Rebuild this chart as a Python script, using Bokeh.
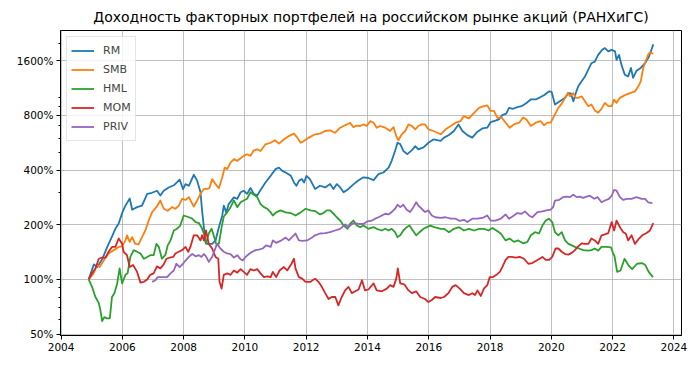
from bokeh.plotting import figure
from bokeh.models import Range1d, FixedTicker, PrintfTickFormatter, Legend, LegendItem
from bokeh.embed import file_html
from bokeh.resources import INLINE

title_text = "Доходность факторных портфелей на российском рынке акций (РАНХиГС)"
series_names = ["RM", "SMB", "HML", "MOM", "PRIV"]
series_colors = ["#1f77b4", "#ff7f0e", "#2ca02c", "#d62728", "#9467bd"]

x_ticks = [2004, 2006, 2008, 2010, 2012, 2014, 2016, 2018, 2020, 2022, 2024]
y_ticks = [50, 100, 200, 400, 800, 1600]
y_minor_ticks = [60, 70, 80, 90, 300, 500, 600, 700, 900, 1000, 2000]

# cumulative value, % of start
rm_t = [2004.90, 2005.07, 2005.18, 2005.34, 2005.50, 2005.66, 2005.77, 2005.88, 2006.00, 2006.10,
        2006.24, 2006.32, 2006.48, 2006.64, 2006.81, 2006.97, 2007.13, 2007.24, 2007.35, 2007.51,
        2007.68, 2007.87, 2007.98, 2008.06, 2008.17, 2008.33, 2008.44, 2008.55, 2008.60, 2008.66,
        2008.71, 2008.77, 2008.93, 2009.04, 2009.15, 2009.26, 2009.31, 2009.39, 2009.47, 2009.64,
        2009.75, 2009.86, 2009.96, 2010.07, 2010.18, 2010.29, 2010.40, 2010.51, 2010.67, 2010.84,
        2011.00, 2011.11, 2011.22, 2011.33, 2011.50, 2011.60, 2011.68, 2011.77, 2011.86, 2011.93,
        2012.01, 2012.12, 2012.29, 2012.45, 2012.62, 2012.78, 2012.89, 2013.00, 2013.11, 2013.22,
        2013.38, 2013.55, 2013.71, 2013.87, 2014.03, 2014.20, 2014.36, 2014.52, 2014.69, 2014.79,
        2014.90, 2014.98, 2015.07, 2015.17, 2015.30, 2015.45, 2015.56, 2015.66, 2015.83, 2015.99,
        2016.15, 2016.39, 2016.50, 2016.66, 2016.82, 2016.97, 2017.10, 2017.26, 2017.42, 2017.59,
        2017.75, 2017.91, 2018.02, 2018.18, 2018.29, 2018.40, 2018.53, 2018.62, 2018.75, 2018.89,
        2019.03, 2019.19, 2019.33, 2019.49, 2019.65, 2019.76, 2019.93, 2020.01, 2020.12, 2020.28,
        2020.45, 2020.56, 2020.64, 2020.72, 2020.80, 2020.88, 2020.99, 2021.10, 2021.18, 2021.31,
        2021.42, 2021.53, 2021.66, 2021.75, 2021.86, 2021.97, 2022.08, 2022.13, 2022.21, 2022.29,
        2022.40, 2022.51, 2022.60, 2022.67, 2022.78, 2022.92, 2023.06, 2023.19, 2023.33]
rm_v = [100, 121, 117, 129, 150, 172, 190, 203, 234, 255,
        279, 242, 250, 255, 296, 300, 308, 290, 308, 321,
        330, 355, 314, 335, 328, 377, 350, 302, 240, 194,
        161, 157, 157, 164, 194, 225, 255, 234, 260, 283,
        278, 302, 308, 296, 319, 296, 290, 311, 342, 372,
        405, 413, 396, 388, 372, 342, 328, 350, 357, 342,
        372, 357, 315, 328, 321, 335, 315, 335, 321, 302,
        315, 335, 352, 365, 362, 352, 380, 388, 413, 450,
        510, 566, 556, 510, 490, 515, 542, 520, 534, 566,
        590, 580, 604, 624, 657, 714, 657, 623, 604, 651,
        679, 685, 736, 750, 761, 803, 818, 881, 871, 889,
        900, 937, 980, 980, 1010, 1034, 1087, 1080, 919, 958,
        1000, 1063, 1057, 958, 1063, 1157, 1233, 1313, 1398, 1552,
        1583, 1726, 1838, 1880, 1805, 1838, 1805, 1620, 1726, 1520,
        1340, 1313, 1461, 1290, 1410, 1461, 1552, 1690, 1972]

smb_t = [2004.90, 2005.06, 2005.17, 2005.26, 2005.39, 2005.55, 2005.72, 2005.88, 2005.99, 2006.10,
         2006.15, 2006.24, 2006.32, 2006.42, 2006.53, 2006.64, 2006.75, 2006.86, 2006.97, 2007.11,
         2007.24, 2007.35, 2007.48, 2007.62, 2007.73, 2007.84, 2007.95, 2008.06, 2008.17, 2008.33,
         2008.44, 2008.55, 2008.66, 2008.77, 2008.84, 2008.93, 2009.04, 2009.15, 2009.26, 2009.34,
         2009.42, 2009.53, 2009.64, 2009.75, 2009.86, 2009.96, 2010.07, 2010.18, 2010.29, 2010.40,
         2010.51, 2010.67, 2010.84, 2010.98, 2011.11, 2011.27, 2011.43, 2011.60, 2011.71, 2011.82,
         2011.92, 2012.09, 2012.29, 2012.45, 2012.62, 2012.78, 2012.94, 2013.11, 2013.22, 2013.33,
         2013.43, 2013.54, 2013.65, 2013.76, 2013.87, 2013.98, 2014.09, 2014.20, 2014.30, 2014.41,
         2014.58, 2014.74, 2014.85, 2014.94, 2015.01, 2015.12, 2015.23, 2015.34, 2015.45, 2015.56,
         2015.66, 2015.77, 2015.88, 2015.99, 2016.15, 2016.39, 2016.55, 2016.72, 2016.88, 2017.04,
         2017.14, 2017.31, 2017.48, 2017.64, 2017.80, 2017.91, 2018.02, 2018.13, 2018.24, 2018.38,
         2018.51, 2018.64, 2018.78, 2018.95, 2019.08, 2019.19, 2019.33, 2019.49, 2019.65, 2019.76,
         2019.87, 2019.98, 2020.09, 2020.23, 2020.34, 2020.45, 2020.54, 2020.61, 2020.72, 2020.80,
         2020.88, 2020.99, 2021.10, 2021.21, 2021.31, 2021.42, 2021.53, 2021.64, 2021.75, 2021.86,
         2021.97, 2022.05, 2022.13, 2022.24, 2022.40, 2022.57, 2022.73, 2022.84, 2022.92, 2023.00,
         2023.08, 2023.16, 2023.22, 2023.33]
smb_v = [100, 108, 120, 117, 127, 139, 145, 151, 152, 164,
         175, 161, 171, 157, 156, 171, 186, 211, 235, 250,
         272, 245, 239, 250, 245, 255, 278, 274, 284, 252,
         272, 296, 315, 315, 318, 357, 335, 318, 365, 413,
         405, 440, 460, 450, 465, 479, 489, 479, 514, 521,
         510, 555, 566, 584, 560, 590, 616, 635, 604, 566,
         578, 604, 630, 635, 657, 662, 642, 685, 700, 714,
         729, 690, 704, 700, 714, 700, 745, 729, 685, 700,
         685, 657, 690, 616, 584, 630, 657, 714, 700, 671,
         700, 714, 714, 671, 657, 630, 671, 699, 730, 745,
         793, 771, 827, 881, 900, 909, 847, 847, 775, 780,
         730, 685, 714, 730, 780, 760, 699, 730, 745, 707,
         730, 730, 793, 880, 930, 1000, 1063, 1020, 1063, 1000,
         1000, 1020, 958, 900, 919, 853, 828, 872, 939, 900,
         900, 978, 939, 1000, 1035, 1063, 1085, 1157, 1233, 1460,
         1590, 1725, 1780, 1750]

hml_t = [2004.90, 2005.01, 2005.12, 2005.23, 2005.28, 2005.34, 2005.41, 2005.50, 2005.59, 2005.66,
         2005.74, 2005.83, 2005.91, 2005.99, 2006.10, 2006.17, 2006.26, 2006.37, 2006.48, 2006.59,
         2006.70, 2006.81, 2006.91, 2007.02, 2007.11, 2007.19, 2007.29, 2007.40, 2007.48, 2007.57,
         2007.68, 2007.78, 2007.89, 2008.00, 2008.17, 2008.28, 2008.39, 2008.50, 2008.58, 2008.66,
         2008.73, 2008.82, 2008.91, 2008.98, 2009.06, 2009.15, 2009.24, 2009.31, 2009.42, 2009.53,
         2009.64, 2009.75, 2009.86, 2009.96, 2010.07, 2010.18, 2010.29, 2010.40, 2010.51, 2010.62,
         2010.73, 2010.84, 2010.91, 2011.02, 2011.16, 2011.33, 2011.49, 2011.65, 2011.82, 2011.98,
         2012.14, 2012.29, 2012.45, 2012.56, 2012.67, 2012.78, 2012.89, 2013.00, 2013.11, 2013.22,
         2013.35, 2013.43, 2013.54, 2013.65, 2013.76, 2013.87, 2014.03, 2014.20, 2014.30, 2014.47,
         2014.58, 2014.69, 2014.79, 2014.90, 2014.98, 2015.07, 2015.17, 2015.28, 2015.37, 2015.48,
         2015.59, 2015.70, 2015.83, 2015.94, 2016.05, 2016.18, 2016.39, 2016.50, 2016.66, 2016.82,
         2016.99, 2017.15, 2017.31, 2017.48, 2017.64, 2017.80, 2017.95, 2018.08, 2018.21, 2018.35,
         2018.51, 2018.64, 2018.78, 2018.92, 2019.08, 2019.22, 2019.33, 2019.47, 2019.60, 2019.71,
         2019.82, 2019.92, 2020.03, 2020.12, 2020.23, 2020.34, 2020.45, 2020.56, 2020.67, 2020.77,
         2020.90, 2021.04, 2021.21, 2021.31, 2021.42, 2021.53, 2021.64, 2021.81, 2021.95, 2022.02,
         2022.06, 2022.15, 2022.26, 2022.39, 2022.53, 2022.64, 2022.80, 2022.96, 2023.07, 2023.18,
         2023.32]
hml_v = [100, 91, 80, 74, 68, 59, 62, 61, 61, 80,
         84, 95, 115, 95, 106, 108, 133, 145, 142, 139,
         130, 133, 136, 136, 157, 151, 130, 136, 154, 164,
         186, 190, 198, 225, 220, 216, 207, 204, 194, 179,
         157, 179, 190, 175, 157, 157, 194, 222, 234, 250,
         272, 250, 266, 272, 278, 302, 293, 284, 260, 250,
         245, 234, 225, 234, 240, 234, 232, 225, 234, 245,
         240, 238, 228, 232, 240, 240, 230, 220, 211, 198,
         190, 202, 211, 198, 194, 198, 190, 194, 190, 186,
         190, 186, 190, 182, 171, 175, 186, 194, 198, 186,
         175, 182, 190, 194, 198, 194, 190, 190, 182, 190,
         194, 186, 190, 186, 190, 190, 186, 192, 186, 179,
         164, 168, 161, 164, 158, 161, 175, 182, 179, 198,
         211, 216, 207, 182, 175, 182, 164, 157, 154, 151,
         148, 145, 144, 145, 148, 144, 151, 151, 150, 139,
         135, 110, 112, 130, 119, 114, 122, 123, 120, 110,
         103]

mom_t = [2004.90, 2005.01, 2005.12, 2005.23, 2005.34, 2005.45, 2005.55, 2005.66, 2005.77, 2005.88,
         2005.99, 2006.04, 2006.15, 2006.24, 2006.35, 2006.48, 2006.59, 2006.70, 2006.81, 2006.91,
         2007.02, 2007.13, 2007.24, 2007.35, 2007.44, 2007.55, 2007.66, 2007.73, 2007.84, 2007.95,
         2008.06, 2008.15, 2008.22, 2008.33, 2008.44, 2008.55, 2008.60, 2008.66, 2008.73, 2008.82,
         2008.93, 2009.04, 2009.13, 2009.17, 2009.24, 2009.31, 2009.42, 2009.53, 2009.64, 2009.75,
         2009.86, 2009.96, 2010.07, 2010.18, 2010.29, 2010.40, 2010.51, 2010.62, 2010.73, 2010.84,
         2010.91, 2011.02, 2011.13, 2011.27, 2011.38, 2011.52, 2011.60, 2011.65, 2011.76, 2011.87,
         2011.98, 2012.14, 2012.29, 2012.40, 2012.51, 2012.62, 2012.73, 2012.84, 2012.95, 2013.05,
         2013.16, 2013.27, 2013.38, 2013.49, 2013.60, 2013.71, 2013.82, 2013.92, 2014.03, 2014.20,
         2014.30, 2014.47, 2014.63, 2014.74, 2014.85, 2014.94, 2014.99, 2015.07, 2015.20, 2015.34,
         2015.45, 2015.59, 2015.72, 2015.88, 2015.99, 2016.10, 2016.21, 2016.39, 2016.50, 2016.64,
         2016.77, 2016.88, 2017.01, 2017.15, 2017.31, 2017.42, 2017.51, 2017.59, 2017.70, 2017.80,
         2017.91, 2017.99, 2018.10, 2018.21, 2018.32, 2018.40, 2018.51, 2018.60, 2018.71, 2018.84,
         2018.97, 2019.11, 2019.25, 2019.38, 2019.55, 2019.71, 2019.82, 2019.93, 2020.03, 2020.14,
         2020.23, 2020.34, 2020.45, 2020.56, 2020.67, 2020.77, 2020.88, 2020.99, 2021.10, 2021.21,
         2021.31, 2021.42, 2021.53, 2021.64, 2021.75, 2021.86, 2021.97, 2022.05, 2022.13, 2022.24,
         2022.35, 2022.43, 2022.51, 2022.62, 2022.73, 2022.84, 2022.97, 2023.11, 2023.22, 2023.33]
mom_v = [100, 108, 115, 130, 132, 132, 142, 151, 151, 168,
         157, 142, 136, 117, 120, 110, 96, 97, 100, 106,
         108, 118, 115, 121, 130, 132, 133, 139, 142, 145,
         151, 142, 151, 175, 175, 164, 175, 164, 186, 157,
         148, 133, 130, 97, 89, 106, 108, 106, 112, 109,
         114, 110, 106, 114, 112, 114, 108, 103, 104, 103,
         110, 103, 112, 117, 112, 122, 130, 115, 103, 101,
         97, 97, 101, 97, 91, 84, 78, 80, 80, 72,
         80, 87, 91, 84, 86, 88, 99, 87, 88, 95,
         87, 86, 89, 93, 91, 101, 115, 95, 94, 87,
         84, 86, 80, 78, 75, 77, 80, 79, 80, 84,
         91, 93, 89, 84, 82, 84, 82, 87, 81, 89,
         93, 103, 103, 106, 110, 117, 128, 133, 133, 132,
         133, 130, 122, 123, 128, 133, 128, 128, 133, 148,
         148, 142, 138, 137, 140, 145, 152, 158, 157, 157,
         168, 164, 157, 175, 177, 180, 207, 186, 211, 194,
         182, 179, 164, 175, 157, 166, 175, 180, 186, 204]

priv_t = [2006.97, 2007.08, 2007.15, 2007.24, 2007.35, 2007.46, 2007.57, 2007.68, 2007.76, 2007.87,
          2007.98, 2008.06, 2008.17, 2008.28, 2008.39, 2008.50, 2008.58, 2008.66, 2008.73, 2008.82,
          2008.93, 2009.02, 2009.09, 2009.20, 2009.31, 2009.42, 2009.53, 2009.64, 2009.75, 2009.86,
          2009.93, 2010.02, 2010.13, 2010.24, 2010.35, 2010.45, 2010.58, 2010.69, 2010.84, 2010.91,
          2011.02, 2011.16, 2011.33, 2011.43, 2011.54, 2011.65, 2011.76, 2011.87, 2012.03, 2012.19,
          2012.29, 2012.45, 2012.62, 2012.78, 2012.94, 2013.11, 2013.27, 2013.38, 2013.49, 2013.60,
          2013.71, 2013.87, 2014.00, 2014.14, 2014.25, 2014.36, 2014.47, 2014.58, 2014.69, 2014.79,
          2014.90, 2014.98, 2015.07, 2015.17, 2015.28, 2015.39, 2015.50, 2015.59, 2015.66, 2015.77,
          2015.88, 2015.99, 2016.10, 2016.21, 2016.39, 2016.55, 2016.72, 2016.88, 2017.01, 2017.15,
          2017.26, 2017.42, 2017.59, 2017.75, 2017.91, 2018.02, 2018.18, 2018.35, 2018.51, 2018.62,
          2018.78, 2018.89, 2019.03, 2019.14, 2019.27, 2019.38, 2019.55, 2019.71, 2019.84, 2019.98,
          2020.06, 2020.12, 2020.25, 2020.39, 2020.50, 2020.61, 2020.72, 2020.83, 2020.93, 2021.04,
          2021.15, 2021.26, 2021.40, 2021.51, 2021.64, 2021.75, 2021.88, 2021.97, 2022.05, 2022.13,
          2022.24, 2022.35, 2022.46, 2022.62, 2022.78, 2022.95, 2023.06, 2023.16, 2023.30]
priv_v = [97, 99, 103, 103, 103, 103, 108, 112, 122, 117,
          122, 127, 133, 138, 134, 136, 133, 138, 134, 125,
          133, 146, 157, 148, 142, 139, 138, 132, 136, 129,
          127, 133, 138, 142, 145, 146, 148, 154, 151, 164,
          159, 163, 170, 164, 171, 179, 164, 163, 164, 170,
          175, 179, 180, 182, 186, 190, 201, 194, 202, 204,
          202, 202, 209, 211, 216, 220, 225, 230, 228, 235,
          245, 258, 250, 258, 242, 235, 250, 266, 255, 245,
          235, 240, 225, 220, 218, 220, 216, 216, 210, 213,
          207, 216, 216, 218, 225, 211, 211, 216, 228, 216,
          225, 232, 230, 237, 225, 220, 235, 237, 240, 242,
          250, 272, 274, 284, 286, 284, 293, 284, 286, 281,
          286, 289, 278, 284, 266, 272, 278, 289, 311, 308,
          284, 274, 278, 278, 284, 278, 278, 266, 263]

series_t = [rm_t, smb_t, hml_t, mom_t, priv_t]
series_v = [rm_v, smb_v, hml_v, mom_v, priv_v]

FONT = "DejaVu Sans"

p = figure(width=697, height=370, output_backend="svg", toolbar_location=None,
           y_axis_type="log",
           x_range=Range1d(2003.98, 2024.25), y_range=Range1d(49.1, 2350),
           min_border_left=60, min_border_right=16, min_border_top=30, min_border_bottom=35,
           background_fill_color="white", border_fill_color="white")

p.title.text = title_text
p.title.align = "center"
p.title.vertical_align = "middle"
p.title.text_font = FONT
p.title.text_font_size = "14px"
p.title.text_font_style = "normal"
p.title.text_color = "black"
p.title.standoff = 10

p.outline_line_color = "black"
p.outline_line_width = 1
p.outline_line_alpha = 1

xt = FixedTicker(ticks=x_ticks, minor_ticks=[])
yt = FixedTicker(ticks=y_ticks, minor_ticks=y_minor_ticks)
p.xaxis.ticker = xt
p.yaxis.ticker = yt
p.xgrid.ticker = xt
p.ygrid.ticker = yt
p.yaxis.formatter = PrintfTickFormatter(format="%d%%")

for ax in (p.xaxis[0], p.yaxis[0]):
    ax.axis_line_color = "black"
    ax.axis_line_width = 1
    ax.major_tick_line_color = "black"
    ax.minor_tick_line_color = "black"
    ax.major_tick_out = 4
    ax.major_tick_in = 0
    ax.minor_tick_out = 2
    ax.minor_tick_in = 0
    ax.major_label_text_font = FONT
    ax.major_label_text_font_size = "10.5px"
    ax.major_label_text_color = "black"
    ax.major_label_standoff = 3

for g in (p.xgrid[0], p.ygrid[0]):
    g.grid_line_color = "#b0b0b0"
    g.grid_line_width = 0.8

items = []
for name, color, t, v in zip(series_names, series_colors, series_t, series_v):
    r = p.line(t, v, line_color=color, line_width=1.8, line_join="round")
    items.append(LegendItem(label=name, renderers=[r]))

legend = Legend(items=items, location="top_left", margin=6, padding=4, spacing=0,
                glyph_width=23, glyph_height=19, label_height=19, label_standoff=9,
                label_text_font=FONT, label_text_font_size="11px",
                border_line_color="#cccccc", border_line_width=1,
                background_fill_color="white", background_fill_alpha=0.8)
p.add_layout(legend)

open("out.html", "w").write(file_html(p, INLINE))
